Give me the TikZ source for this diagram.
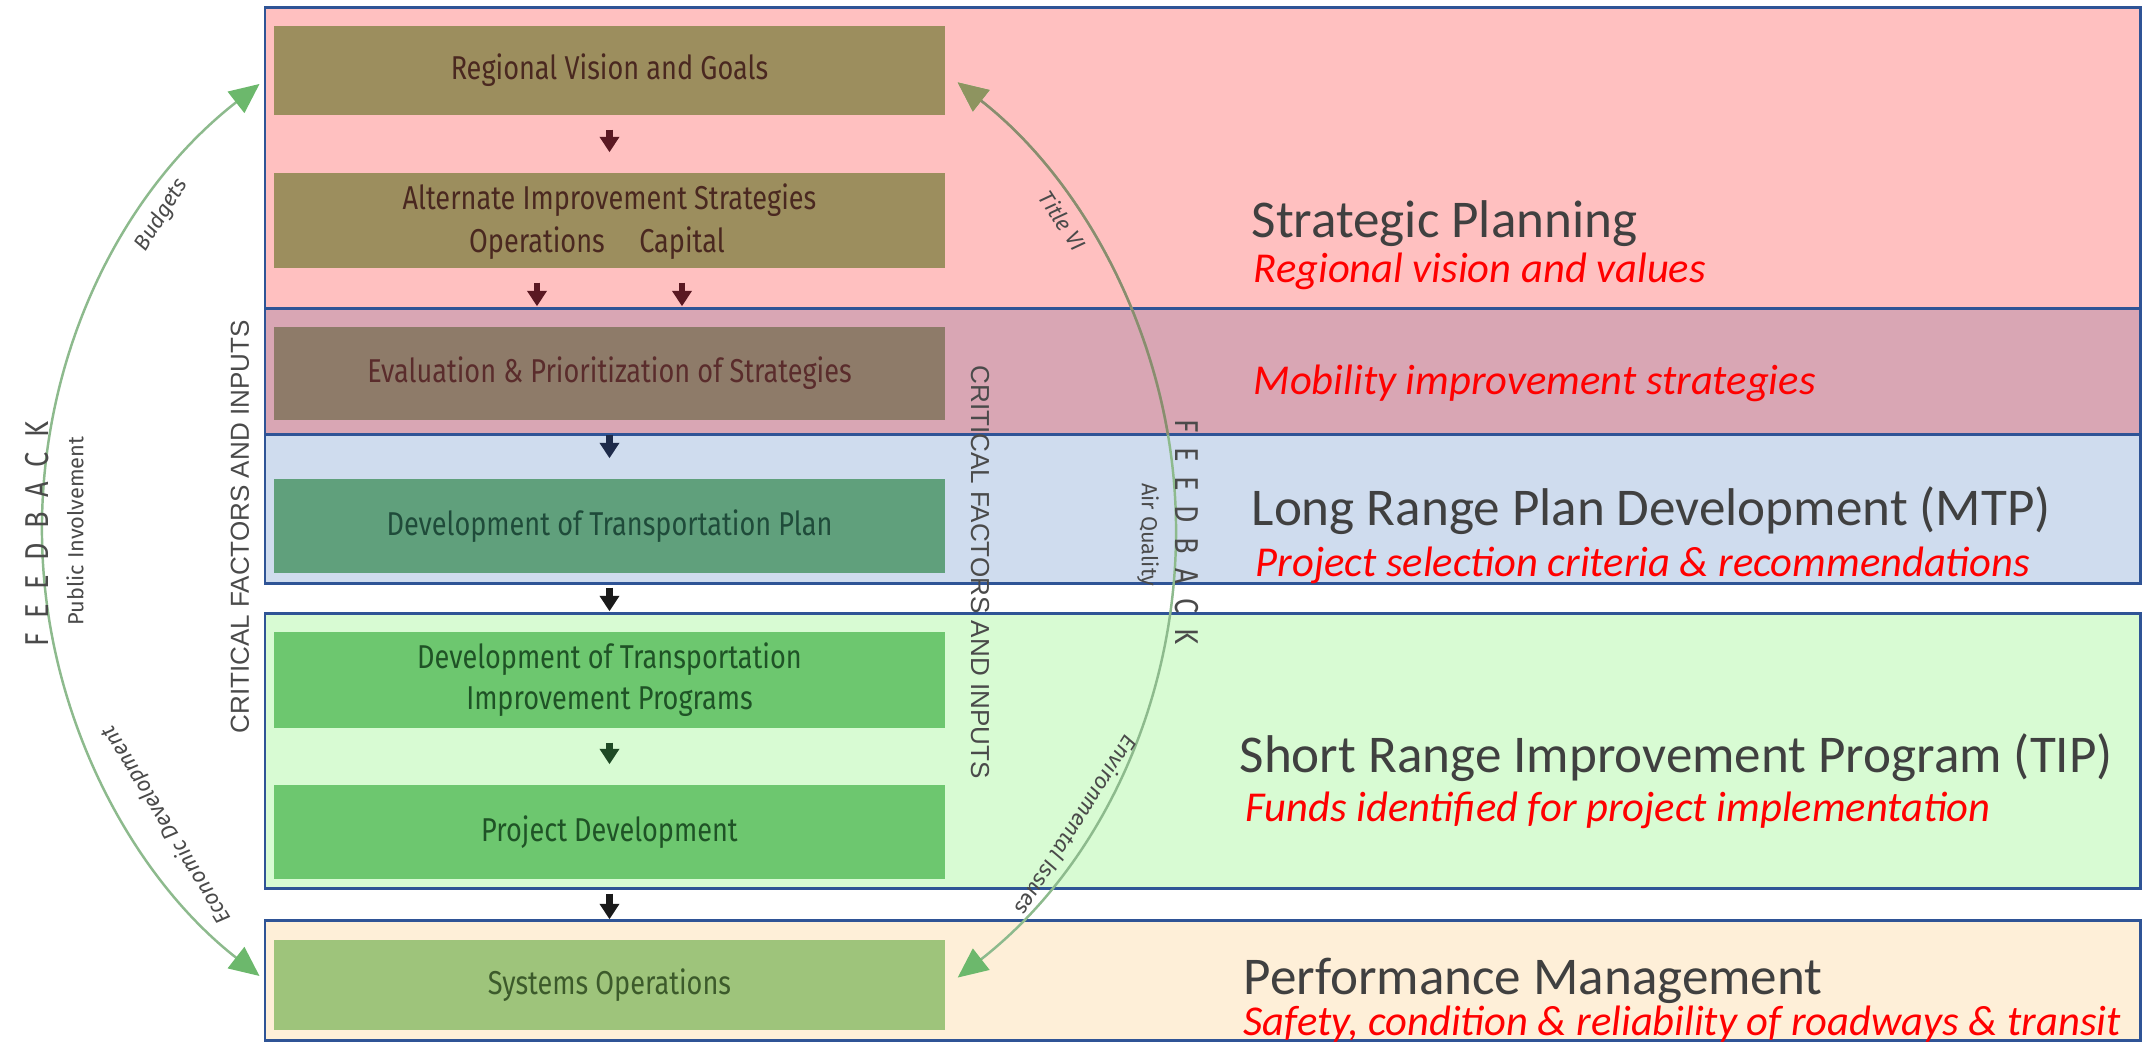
\documentclass[tikz,border=0pt]{standalone}
\usepackage{fontspec}
\setmainfont{Fira Sans}
\newfontfamily\calfont{Carlito}
\newfontfamily\boxfont[FakeStretch=0.82]{Fira Sans}
\newfontfamily\capfont{Liberation Sans}
\usetikzlibrary{arrows.meta}
\newlength\pxu
\setlength\pxu{0.01cm}
\definecolor{pinkband}{HTML}{FFC0C0}
\definecolor{mauveband}{HTML}{D9A6B4}
\definecolor{blueband}{HTML}{CFDCEE}
\definecolor{greenband}{HTML}{D8FBD3}
\definecolor{orangeband}{HTML}{FEEFD8}
\definecolor{bandline}{HTML}{2F5496}
\definecolor{olivebox}{HTML}{9C8E5E}
\definecolor{evalbox}{HTML}{8E7B69}
\definecolor{dtpbox}{HTML}{60A07C}
\definecolor{greenbox}{HTML}{6DC76F}
\definecolor{sobox}{HTML}{9EC47B}
\definecolor{olivetext}{HTML}{4A2820}
\definecolor{evaltext}{HTML}{5A2C2C}
\definecolor{dtptext}{HTML}{1F4B3A}
\definecolor{greentext}{HTML}{1F5326}
\definecolor{sotext}{HTML}{3C5A2B}
\definecolor{flowpink}{HTML}{5A1822}
\definecolor{flownavy}{HTML}{1E2B4A}
\definecolor{flowdark}{HTML}{1A1A1A}
\definecolor{flowgreen}{HTML}{1F4A25}
\definecolor{arcline}{HTML}{8DBA8D}
\definecolor{arctip}{HTML}{6CB86C}
\definecolor{arcolive}{HTML}{8A8C6E}
\definecolor{arcolivetip}{HTML}{8E9460}
\definecolor{labelgrey}{HTML}{4A4A4A}
\definecolor{titlegrey}{HTML}{404040}
\definecolor{subred}{HTML}{FF0000}
\begin{document}
\begin{tikzpicture}[x=0.01cm,y=0.01cm,
  band/.style={draw=bandline, line width=0.85pt},
  box/.style={minimum width=671\pxu, inner sep=0pt, align=center,
    font=\boxfont\fontsize{9.4pt}{11.7pt}\selectfont},
  boxtxt/.style={inner sep=0pt, font=\boxfont\fontsize{9.4pt}{11.7pt}\selectfont},
  flow/.style={line width=1.8pt, -{Triangle[width=5.4pt,length=4.4pt]},
    shorten <=14\pxu, shorten >=20\pxu},
  fbarc/.style={draw=arcline, line width=0.7pt,
    {Triangle[width=7.6pt,length=8.5pt,color=arctip]}-{Triangle[width=7.6pt,length=8.5pt,color=arctip]}},
  fbarcolive/.style={draw=arcolive, line width=0.7pt,
    {Triangle[width=7.6pt,length=8.5pt,color=arcolivetip]}-{Triangle[width=7.6pt,length=8.5pt,color=arcolivetip]}},
  lbl/.style={inner sep=0pt, text=labelgrey, font=\fontsize{6.2pt}{7pt}\selectfont},
  fbtxt/.style={inner sep=0pt, text=labelgrey,
    font=\boxfont\fontsize{9.4pt}{10pt}\selectfont\addfontfeature{LetterSpace=44}},
  crit/.style={inner sep=0pt, text=labelgrey, font=\capfont\fontsize{7.4pt}{8pt}\selectfont},
  title/.style={anchor=base west, inner sep=0pt, text=titlegrey,
    font=\calfont\fontsize{15.1pt}{18pt}\selectfont},
  sub/.style={anchor=base west, inner sep=0pt, text=subred,
    font=\calfont\itshape\fontsize{12.1pt}{14pt}\selectfont}
]
\useasboundingbox (0,0) rectangle (2144,1043);
\fill[white] (0,0) rectangle (2144,1043);

% bands
\draw[band, fill=pinkband] (265,734) rectangle (2140,1035);
\draw[band, fill=mauveband] (265,608) rectangle (2140,734);
\draw[band, fill=blueband] (265,459) rectangle (2140,608);
\draw[band, fill=greenband] (265,154) rectangle (2140,429);
\draw[band, fill=orangeband] (265,2) rectangle (2140,122);

% boxes
\node[box, fill=olivebox, minimum height=89\pxu, text=olivetext] (rv) at (609.5,972.5) {Regional Vision and Goals};
\node[box, fill=olivebox, minimum height=95\pxu] (ais) at (609.5,822.5) {};
\node[boxtxt, text=olivetext] (aist) at (609.5,843) {Alternate Improvement Strategies};
\node[boxtxt, text=olivetext] (ops) at (537,800) {Operations};
\node[boxtxt, text=olivetext] (cap) at (682,800) {Capital};
\node[box, fill=evalbox, minimum height=93\pxu, text=evaltext] (eval) at (609.5,669.5) {Evaluation \& Prioritization of Strategies};
\node[box, fill=dtpbox, minimum height=94\pxu, text=dtptext] (dtp) at (609.5,517) {Development of Transportation Plan};
\node[box, fill=greenbox, minimum height=96\pxu, text=greentext] (dtip) at (609.5,363) {Development of Transportation\\Improvement Programs};
\node[box, fill=greenbox, minimum height=94\pxu, text=greentext] (pd) at (609.5,211) {Project Development};
\node[box, fill=sobox, minimum height=90\pxu, text=sotext] (so) at (609.5,58) {Systems Operations};

% flow arrows
\draw[flow, flowpink] (rv) -- (ais);
\draw[flow, flowpink] (ais.south -| ops) -- (eval.north -| ops);
\draw[flow, flowpink] (ais.south -| cap) -- (eval.north -| cap);
\draw[flow, flownavy] (eval) -- (dtp);
\draw[flow, flowdark] (dtp) -- (dtip);
\draw[flow, flowgreen] (dtip) -- (pd);
\draw[flow, flowdark] (pd) -- (so);

% feedback arcs
\coordinate (fc) at (608,513);
\draw[fbarc] (fc) ++(128:566) arc[start angle=128, end angle=232, radius=566];
\draw[fbarc] (fc) ++(-52:568) arc[start angle=-52, end angle=52, radius=568];
\begin{scope}
\clip (265,608) rectangle (2140,1035);
\draw[fbarcolive] (fc) ++(-52:568) arc[start angle=-52, end angle=52, radius=568];
\end{scope}

% arc labels
\node[lbl, rotate=58] (bud) at (162,828) {\itshape Budgets};
\node[lbl, rotate=90] (pub) at (75,512) {Public Involvement};
\node[lbl, rotate=121.4] (eco) at (167,218) {\itshape Economic Development};
\node[lbl, rotate=-57] (tvi) at (1063,822) {\itshape Title VI};
\node[lbl, rotate=-90] (air) at (1148,508) {Air Quality};
\node[lbl, rotate=237.7] (env) at (1077,217) {\itshape Environmental Issues};

\node[fbtxt, rotate=90] (fbl) at (37,509) {FEEDBACK};
\node[fbtxt, rotate=-90] (fbr) at (1187,511) {FEEDBACK};
\node[crit, rotate=90] (crl) at (240,516) {CRITICAL FACTORS AND INPUTS};
\node[crit, rotate=-90] (crr) at (980,471) {CRITICAL FACTORS AND INPUTS};

% right side texts
\node[title] (t1) at (1251,805) {Strategic Planning};
\node[sub] (s1) at (1253,760) {Regional vision and values};
\node[sub] (s2) at (1253,648) {Mobility improvement strategies};
\node[title] (t2) at (1251,517) {Long Range Plan Development (MTP)};
\node[sub] (s3) at (1255,466) {Project selection criteria \& recommendations};
\node[title] (t3) at (1239,270) {Short Range Improvement Program (TIP)};
\node[sub] (s4) at (1245,221) {Funds identified for project implementation};
\node[title] (t4) at (1243,48) {Performance Management};
\node[sub] (s5) at (1243,7) {Safety, condition \& reliability of roadways \& transit};
\end{tikzpicture}
\end{document}
